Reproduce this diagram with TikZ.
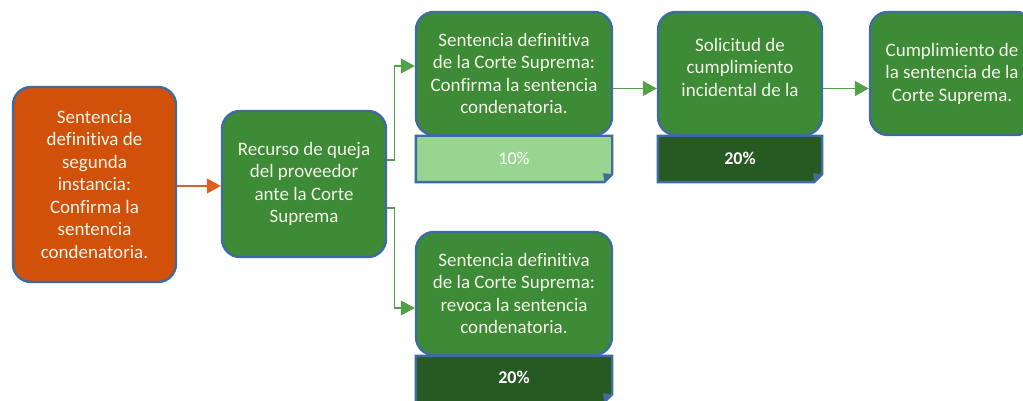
\documentclass[tikz,border=0pt]{standalone}
\usepackage{fontspec}
\setmainfont{Carlito}[Ligatures={NoCommon}]
\usetikzlibrary{arrows.meta,calc}
\definecolor{orng}{RGB}{209,80,10}
\definecolor{grn}{RGB}{61,138,55}
\definecolor{bord}{RGB}{62,108,160}
\definecolor{lgrn}{RGB}{152,213,145}
\definecolor{dgrn}{RGB}{39,90,34}
\definecolor{lne}{RGB}{84,160,74}
\definecolor{ornl}{RGB}{224,96,30}
\definecolor{txt}{RGB}{245,245,232}
\tikzset{
  box/.style={draw=bord, line width=2.4pt, rounded corners=18pt, fill=grn, text=txt,
    align=center, font=\fontsize{19}{22.5}\selectfont, inner sep=0pt},
  pct/.style={inner sep=0pt, text=white, font=\fontsize{18}{20}\selectfont},
  conn/.style={draw=lne, line width=1.4pt, -{Triangle[length=14pt,width=15pt]}},
}
\newcommand{\foldbox}[2]{% node name, fill
  \fill[#2] (#1.north west) -- (#1.north east) -- ($(#1.south east)+(0,-8)$) -- ($(#1.south east)+(-8,0)$) -- (#1.south west) -- cycle;
  \fill[bord] ($(#1.south east)+(0,-8)$) -- ($(#1.south east)+(-8,0)$) -- ($(#1.south east)+(-9,-9)$) -- cycle;
  \draw[bord, line width=2.4pt, line join=miter] (#1.north west) -- (#1.north east) -- ($(#1.south east)+(0,-8)$) -- ($(#1.south east)+(-8,0)$) -- (#1.south west) -- cycle;
}
\begin{document}
\begin{tikzpicture}[x=1pt,y=-1pt]
\useasboundingbox (0,0) rectangle (1023,401);
\clip (0,0) rectangle (1023,401);
% main boxes
\node[box, fill=orng, minimum width=163pt, minimum height=195pt] (sda) at (94.5,184.5)
  {Sentencia\\definitiva de\\segunda\\instancia:\\Confirma la\\sentencia\\condenatoria.};
\node[box, minimum width=164pt, minimum height=146pt] (rec) at (304,184)
  {Recurso de queja\\del proveedor\\ante la Corte\\Suprema};
\node[box, minimum width=196pt, minimum height=123pt] (b1) at (514,73.5)
  {Sentencia definitiva\\de la Corte Suprema:\\Confirma la sentencia\\condenatoria.};
\node[box, minimum width=164pt, minimum height=123pt] (b2) at (740,73.5) {};
\node[text=txt, align=center, font=\fontsize{19}{22.5}\selectfont, inner sep=0pt] (b2t) at (740,67)
  {Solicitud de\\cumplimiento\\incidental de la};
\node[box, minimum width=164pt, minimum height=123pt] (b3) at (952,73.5)
  {Cumplimiento de\\la sentencia de la\\Corte Suprema.};
\node[box, minimum width=196pt, minimum height=123pt] (b4) at (514,293.5)
  {Sentencia definitiva\\de la Corte Suprema:\\revoca la sentencia\\condenatoria.};
% percentage boxes
\node[minimum width=196pt, minimum height=46pt, inner sep=0pt] (p1) at (514,159) {};
\foldbox{p1}{lgrn}
\node[pct] (p1t) at (514,158) {10\%};
\node[minimum width=164pt, minimum height=46pt, inner sep=0pt] (p2) at (740,159) {};
\foldbox{p2}{dgrn}
\node[pct, font=\fontsize{18}{20}\selectfont\bfseries] (p2t) at (740,158) {20\%};
\node[minimum width=196pt, minimum height=46pt, inner sep=0pt] (p4) at (514,379) {};
\foldbox{p4}{dgrn}
\node[pct, font=\fontsize{18}{20}\selectfont\bfseries] (p4t) at (514,377) {20\%};
% connectors
\draw[conn, draw=ornl, color=ornl] (sda.east |- 0,186) -- (rec.west |- 0,186);
\draw[conn] ([yshift=24pt]rec.east) -- ++(7,0) |- ([yshift=7.5pt]b1.west);
\draw[conn] ([yshift=-24pt]rec.east) -- ++(7,0) |- ([yshift=-14.5pt]b4.west);
\draw[conn] ([yshift=-15pt]b1.east) -- ([yshift=-15pt]b2.west);
\draw[conn] ([yshift=-15pt]b2.east) -- ([yshift=-15pt]b3.west);
\end{tikzpicture}
\end{document}
